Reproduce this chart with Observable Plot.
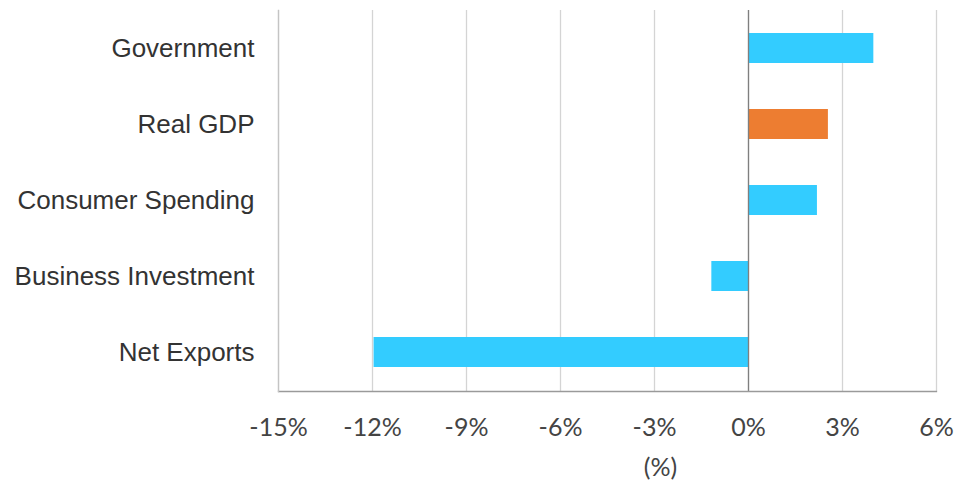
<!DOCTYPE html>
<html>
<head>
<meta charset="utf-8">
<script src="https://cdn.jsdelivr.net/npm/d3@7"></script>
<script src="https://cdn.jsdelivr.net/npm/@observablehq/plot@0.6"></script>
<style>
  html, body { margin: 0; padding: 0; background: #fff; }
</style>
</head>
<body>
<div id="chart"></div>
<script>
const categories = ["Government", "Real GDP", "Consumer Spending", "Business Investment", "Net Exports"];
const values = [4.0, 2.55, 2.2, -1.17, -11.95];
const kinds = ["component", "total", "component", "component", "component"];
const xTicks = [-15, -12, -9, -6, -3, 0, 3, 6];
const axisTitle = "(%)";

const data = categories.map((c, i) => ({category: c, value: values[i], kind: kinds[i]}));

const chart = Plot.plot({
  width: 955,
  height: 486,
  marginLeft: 278,
  marginRight: 19,
  marginTop: 10,
  marginBottom: 95,
  style: {background: "#fff"},
  x: {domain: [-15, 6], ticks: xTicks, tickFormat: d => d + "%", axis: null},
  y: {domain: categories, paddingInner: 0.6, paddingOuter: 0.3, axis: null},
  color: {domain: ["component", "total"], range: ["#33CCFF", "#ED7D31"]},
  marks: [
    Plot.ruleX(xTicks, {stroke: "#d4d4d4", strokeWidth: 1.3}),
    Plot.barX(data, {x: "value", y: "category", fill: "kind"}),
    Plot.ruleX([0], {stroke: "#7f7f7f", strokeWidth: 1.3}),
    Plot.frame({anchor: "bottom", stroke: "#9a9a9a", strokeWidth: 1.3}),
    Plot.frame({anchor: "left", stroke: "#c4c4c4", strokeWidth: 1.3}),
    Plot.axisY({tickSize: 0, tickPadding: 24, fontSize: 26, fontFamily: "Liberation Sans", fill: "#333", label: null}),
    Plot.axisX({ticks: xTicks, tickFormat: d => d + "%", tickSize: 0, tickPadding: 27, fontSize: 25, fontFamily: "Lato", fill: "#444", label: null}),
    Plot.text([axisTitle], {frameAnchor: "bottom", dx: 53, dy: 84, fontSize: 25, fontFamily: "Lato", fill: "#444"})
  ]
});
document.getElementById("chart").appendChild(chart);
</script>
</body>
</html>
